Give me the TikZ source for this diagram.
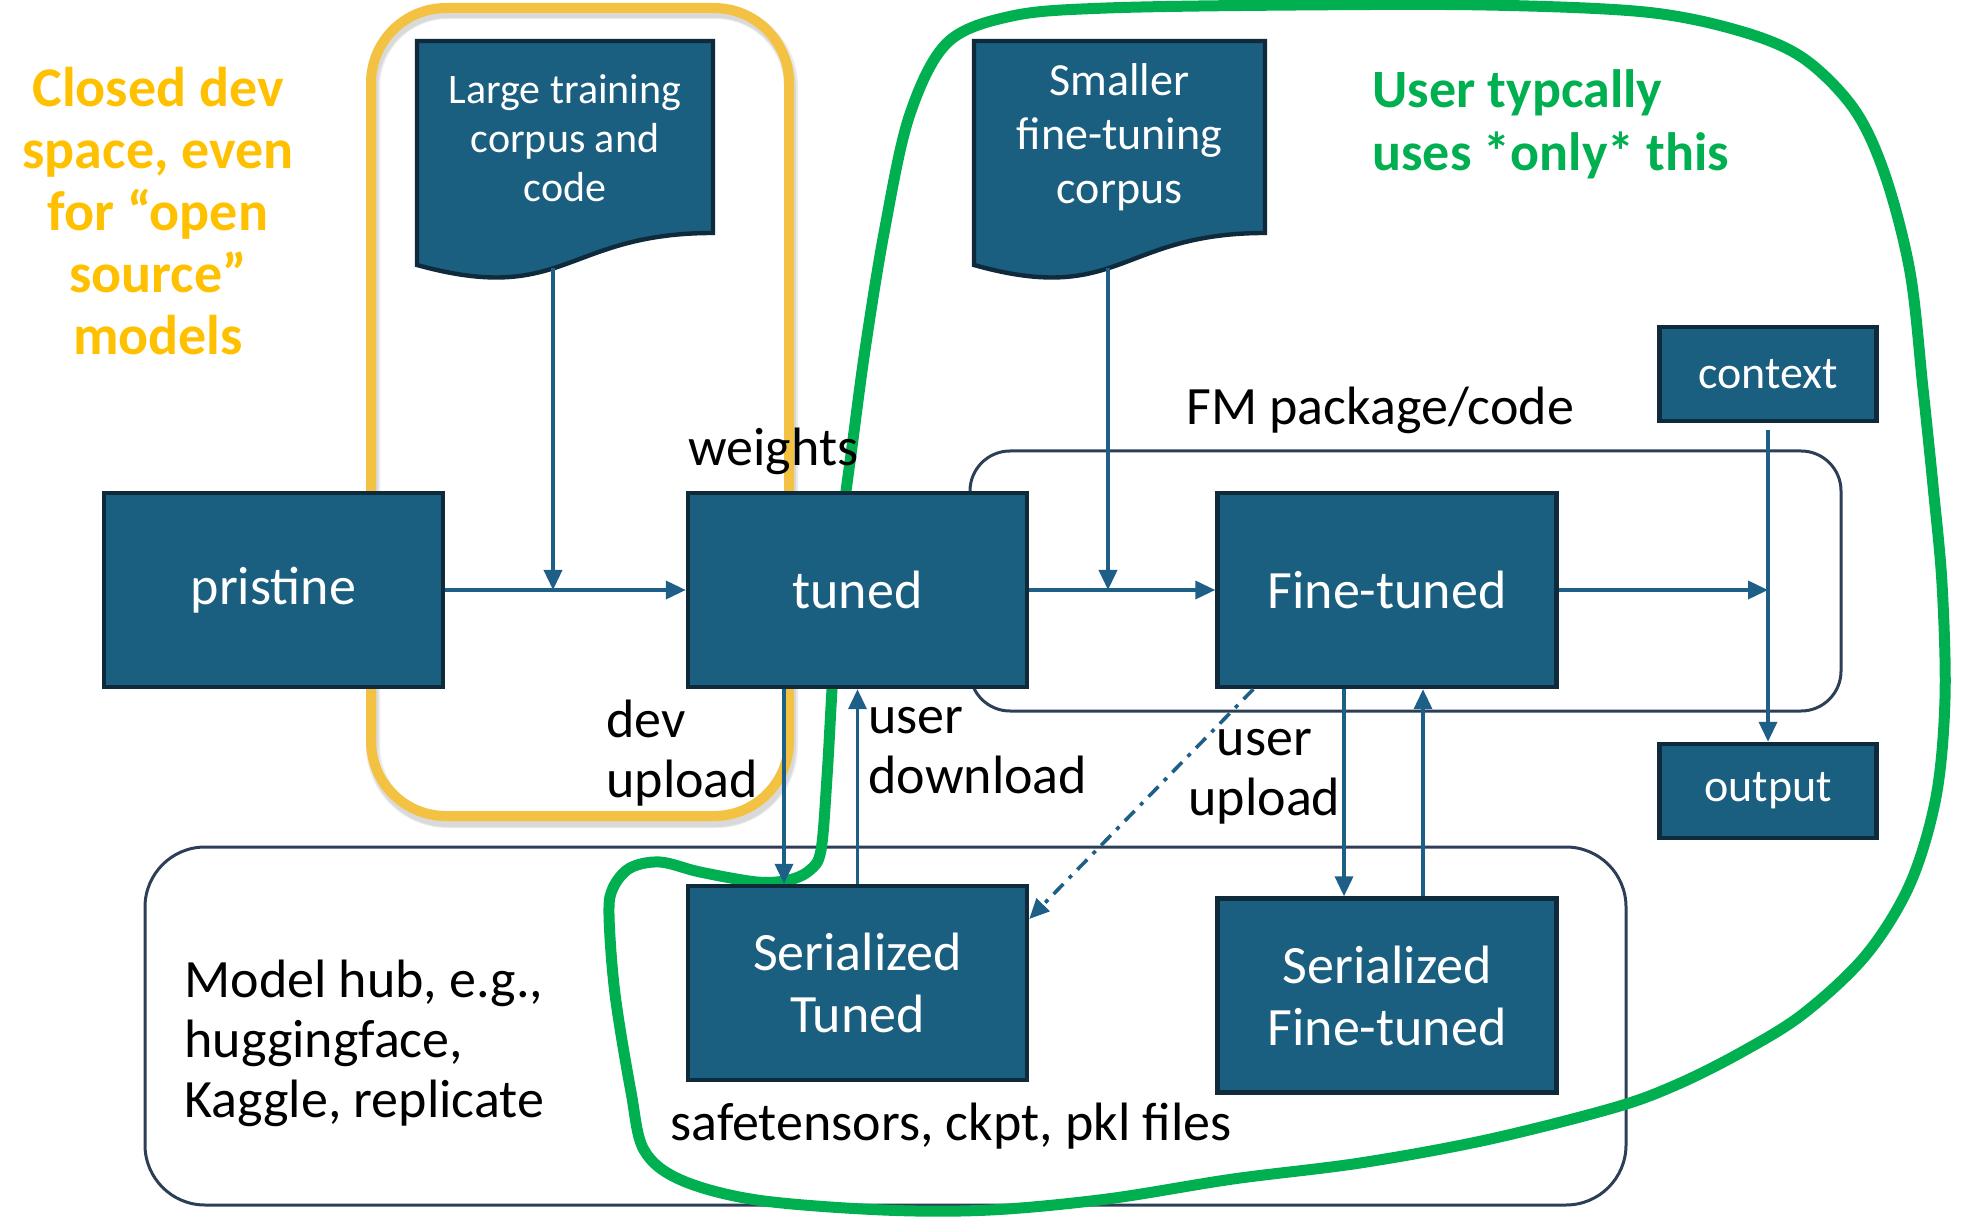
\documentclass[tikz,border=0pt]{standalone}
\usepackage{fontspec}
\setmainfont{Carlito}
\usetikzlibrary{calc, arrows.meta}
\definecolor{BoxFill}{HTML}{1A5E80}
\definecolor{BoxLine}{HTML}{0F2A3B}
\definecolor{FlowBlue}{HTML}{1E5F87}
\definecolor{FrameLine}{HTML}{2C3F56}
\definecolor{ClosedYellow}{HTML}{F4C242}
\definecolor{ClosedText}{HTML}{FFC000}
\definecolor{UserGreen}{HTML}{00B050}
\tikzset{
    block/.style={draw=BoxLine, line width=2.2pt, fill=BoxFill, text=white,
        minimum width=169.5pt, minimum height=97pt, inner sep=0pt,
        align=center, font=\fontsize{27}{31}\selectfont},
    small block/.style={block, minimum width=108.5pt, minimum height=47pt,
        font=\fontsize{23}{27}\selectfont},
    doc shape/.style={draw=BoxLine, line width=2.2pt, fill=BoxFill},
    doc text/.style={text=white, align=center, inner sep=0pt},
    flow/.style={draw=FlowBlue, line width=1.8pt,
        -{Triangle[length=10pt, width=9pt]}},
    dash dot flow/.style={flow, dash pattern=on 7pt off 4pt on 2pt off 4pt},
    frame/.style={draw=FrameLine, line width=1.5pt},
    label text/.style={inner sep=0pt, align=left, font=\fontsize{27}{30}\selectfont}
}

\begin{document}
\begin{tikzpicture}[x=0.5pt, y=-0.5pt]

\useasboundingbox (0,0) rectangle (1973,1218);

% Zona cerrada de desarrollo.
\draw[black, opacity=0.08, line width=7pt, rounded corners=37.5pt] (373,12) rectangle (791,821);
\draw[black, opacity=0.08, line width=5pt, rounded corners=37.5pt] (373,13) rectangle (791,822);
\draw[ClosedYellow, line width=5pt, rounded corners=37.5pt] (371,8) rectangle (789,816);

% Marcos de paquete y de hub.
\draw[frame, rounded corners=20pt] (970,451) rectangle (1841,711);
\draw[frame, rounded corners=30pt] (145,847) rectangle (1626,1205);

% Zona del usuario.
\draw[UserGreen, line width=5.5pt] plot[smooth cycle, tension=0.55] coordinates {
    (846,491) (852,447) (865,350) (884,233) (909,117) (947,43) (1012,16)
    (1107,8) (1297,5) (1486,5) (1645,12) (1740,31) (1803,58) (1854,109)
    (1885,175) (1910,272) (1923,389) (1933,486) (1942,584) (1945,698)
    (1936,797) (1910,884) (1866,955) (1803,1014) (1740,1053) (1676,1085)
    (1613,1108) (1486,1140) (1360,1163) (1233,1179) (1107,1199) (990,1210)
    (883,1210) (757,1200) (681,1180) (644,1150) (631,1092) (615,994)
    (609,915) (613,888) (630,868) (660,862) (700,872) (757,882) (789,880)
    (810,870) (821,850) (827,777) (832,689) (838,590)};

% Documentos.
\coordinate (A) at (417,41);
\coordinate (B) at (713,41);
\coordinate (C) at (713,233);
\coordinate (D) at (417,265);
\draw[doc shape] (A) -- (B) -- (C) .. controls (565,233) and (565,306) .. (D) -- cycle;
\node[doc text, font=\fontsize{21}{24.5}\selectfont] (lgcorpus) at (565,138) {Large training\\corpus and\\code};

\coordinate (E) at (974,41);
\coordinate (F) at (1265,41);
\coordinate (G) at (1265,233);
\coordinate (H) at (974,265);
\draw[doc shape] (E) -- (F) -- (G) .. controls (1119.5,233) and (1119.5,306) .. (H) -- cycle;
\node[doc text, font=\fontsize{23}{27}\selectfont] (smcorpus) at (1119.5,137.5) {Smaller\\fine-tuning\\corpus};

% Bloques.
\node[block] (pristine) at (273.5,590) {pristine};
\node[block] (tuned) at (857.5,590) {tuned};
\node[block] (finetuned) at (1387,590) {Fine-tuned};
\node[small block] (context) at (1768,374) {context};
\node[small block] (output) at (1768,791) {output};
\node[block] (sertuned) at (857.5,983) {Serialized\\Tuned};
\node[block] (serfinetuned) at (1387,995.5) {Serialized\\Fine-tuned};

% Flechas de la fila principal.
\coordinate (lgout) at (553,268);
\coordinate (lgin) at (553,590);
\coordinate (smout) at (1108,268);
\coordinate (smin) at (1108,590);
\draw[flow] (pristine) -- (tuned);
\draw[flow] (lgout) -- (lgin);
\draw[flow] (tuned) -- (finetuned);
\draw[flow] (smout) -- (smin);
\draw[flow] (finetuned.east) -- (finetuned.east -| context.south);
\draw[flow] ($(context.south)+(0,7)$) -- (output.north);

% Subidas y descargas.
\draw[flow] ($(tuned.south)+(-73.5,0)$) -- ($(sertuned.north)+(-73.5,0)$);
\draw[flow] (sertuned.north) -- (tuned.south);
\draw[flow] ($(finetuned.south)+(-43,0)$) -- ($(serfinetuned.north)+(-43,0)$);
\draw[flow] ($(serfinetuned.north)+(36,0)$) -- ($(finetuned.south)+(36,0)$);
\draw[dash dot flow] ($(finetuned.south west)+(38,0)$) -- ($(sertuned.east)+(0,-64)$);

% Textos.
\node[label text, align=center, text=ClosedText, font=\bfseries\fontsize{28}{31}\selectfont] (closed) at (158,211.5)
    {Closed dev\\space, even\\for “open\\source”\\models};
\node[label text, anchor=west, text=UserGreen, font=\bfseries\fontsize{27}{31.5}\selectfont] (usertext) at (1372,124.5)
    {User typcally\\uses *only* this};
\node[label text, anchor=west] (fmlabel) at (1186,410) {FM package/code};
\node[label text, anchor=west] (weights) at (688,451) {weights};
\node[label text, anchor=west] (devup) at (606,753.5) {dev\\upload};
\node[label text, anchor=west] (userdown) at (868,750.5) {user\\download};
\node[label text, align=center] (userup) at (1264.5,776.5) {user\\upload};
\node[label text, anchor=west] (hub) at (184,1043) {Model hub, e.g.,\\huggingface,\\Kaggle, replicate};
\node[label text, anchor=west] (files) at (670,1126) {safetensors, ckpt, pkl files};

\end{tikzpicture}
\end{document}
